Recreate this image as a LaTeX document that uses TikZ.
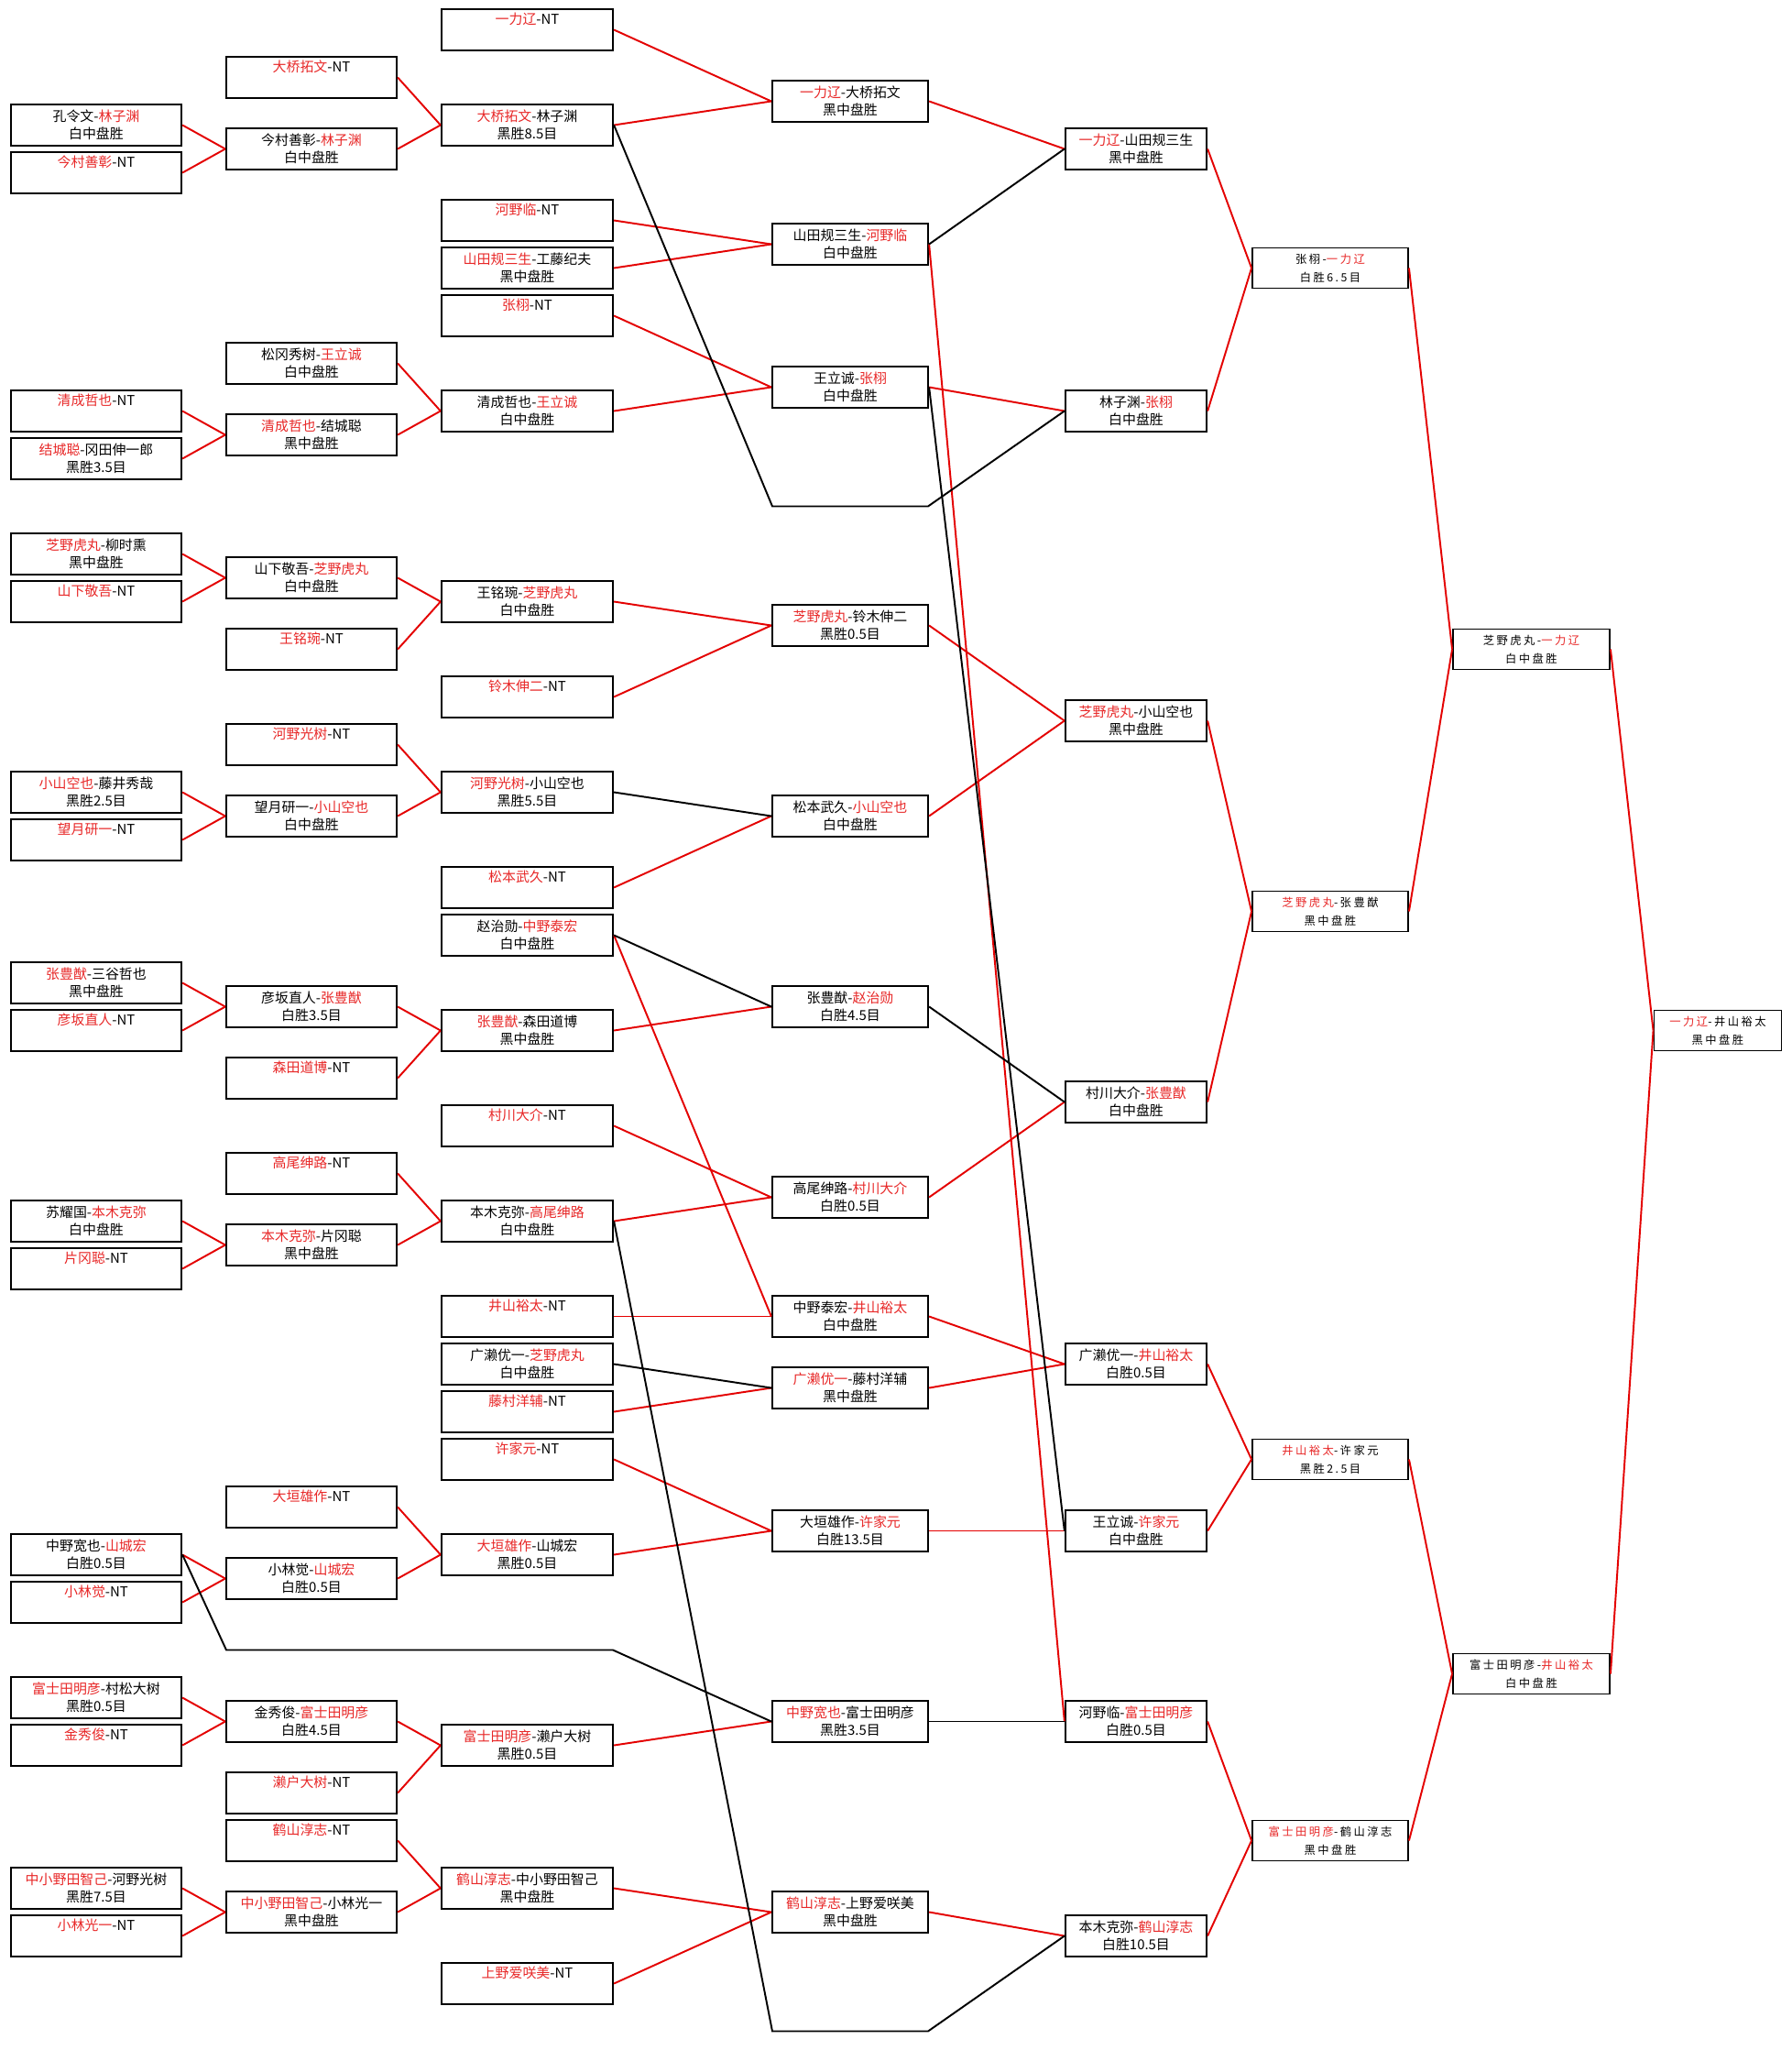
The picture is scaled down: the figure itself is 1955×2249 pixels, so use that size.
\documentclass[tikz,border=0pt]{standalone}
\usepackage{fontspec}
\setmainfont{Noto Sans CJK SC}
\newfontfamily\finalfont[LetterSpace=20]{Noto Sans CJK SC}
\usepackage{tikz}
\definecolor{WinRed}{RGB}{232,40,40}
\definecolor{LineRed}{RGB}{228,0,0}
\newcommand{\win}[1]{\textcolor{WinRed}{#1}}

\begin{document}
\begin{tikzpicture}[x=0.02cm, y=-0.02cm,
    bout/.style={draw, line width=1.3pt, fill=white, inner sep=0pt,
      minimum height=0.9cm, align=center,
      font=\fontsize{8.5}{11}\selectfont},
    colA/.style={bout, minimum width=3.72cm},
    colC/.style={bout, minimum width=3.74cm},
    colD/.style={bout, minimum width=3.40cm},
    colE/.style={bout, minimum width=3.08cm},
    finalbout/.style={bout, line width=1.1pt, minimum height=0.88cm,
      font=\finalfont\fontsize{7}{11.5}\selectfont},
    colF/.style={finalbout, minimum width=3.40cm},
    colG/.style={finalbout, minimum width=3.42cm},
    colH/.style={finalbout, minimum width=2.78cm},
    adv/.style={LineRed, line width=1.1pt},
    drop/.style={black, line width=1.1pt}]

    % Canvas (rows are 52px apart, node names carry twice the row index)
    \fill[white] (0,0) rectangle (1955,2249);
    \useasboundingbox (0,0) rectangle (1955,2249);

    % Round 1
    \node[colA] (a4)  at (105,136.5)  {孔令文-\win{林子渊}\\白中盘胜};
    \node[colA] (a6)  at (105,188.5)  {\win{今村善彰}-NT\\\strut};
    \node[colA] (a16) at (105,448.5)  {\win{清成哲也}-NT\\\strut};
    \node[colA] (a18) at (105,500.5)  {\win{结城聪}-冈田伸一郎\\黑胜3.5目};
    \node[colA] (a22) at (105,604.5)  {\win{芝野虎丸}-柳时熏\\黑中盘胜};
    \node[colA] (a24) at (105,656.5)  {\win{山下敬吾}-NT\\\strut};
    \node[colA] (a32) at (105,864.5)  {\win{小山空也}-藤井秀哉\\黑胜2.5目};
    \node[colA] (a34) at (105,916.5)  {\win{望月研一}-NT\\\strut};
    \node[colA] (a40) at (105,1072.5) {\win{张豊猷}-三谷哲也\\黑中盘胜};
    \node[colA] (a42) at (105,1124.5) {\win{彦坂直人}-NT\\\strut};
    \node[colA] (a50) at (105,1332.5) {苏耀国-\win{本木克弥}\\白中盘胜};
    \node[colA] (a52) at (105,1384.5) {\win{片冈聪}-NT\\\strut};
    \node[colA] (a64) at (105,1696.5) {中野宽也-\win{山城宏}\\白胜0.5目};
    \node[colA] (a66) at (105,1748.5) {\win{小林觉}-NT\\\strut};
    \node[colA] (a70) at (105,1852.5) {\win{富士田明彦}-村松大树\\黑胜0.5目};
    \node[colA] (a72) at (105,1904.5) {\win{金秀俊}-NT\\\strut};
    \node[colA] (a78) at (105,2060.5) {\win{中小野田智己}-河野光树\\黑胜7.5目};
    \node[colA] (a80) at (105,2112.5) {\win{小林光一}-NT\\\strut};

    % Round 2
    \node[colA] (b2)  at (340,84.5)   {\win{大桥拓文}-NT\\\strut};
    \node[colA] (b5)  at (340,162.5)  {今村善彰-\win{林子渊}\\白中盘胜};
    \node[colA] (b14) at (340,396.5)  {松冈秀树-\win{王立诚}\\白中盘胜};
    \node[colA] (b17) at (340,474.5)  {\win{清成哲也}-结城聪\\黑中盘胜};
    \node[colA] (b23) at (340,630.5)  {山下敬吾-\win{芝野虎丸}\\白中盘胜};
    \node[colA] (b26) at (340,708.5)  {\win{王铭琬}-NT\\\strut};
    \node[colA] (b30) at (340,812.5)  {\win{河野光树}-NT\\\strut};
    \node[colA] (b33) at (340,890.5)  {望月研一-\win{小山空也}\\白中盘胜};
    \node[colA] (b41) at (340,1098.5) {彦坂直人-\win{张豊猷}\\白胜3.5目};
    \node[colA] (b44) at (340,1176.5) {\win{森田道博}-NT\\\strut};
    \node[colA] (b48) at (340,1280.5) {\win{高尾绅路}-NT\\\strut};
    \node[colA] (b51) at (340,1358.5) {\win{本木克弥}-片冈聪\\黑中盘胜};
    \node[colA] (b62) at (340,1644.5) {\win{大垣雄作}-NT\\\strut};
    \node[colA] (b65) at (340,1722.5) {小林觉-\win{山城宏}\\白胜0.5目};
    \node[colA] (b71) at (340,1878.5) {金秀俊-\win{富士田明彦}\\白胜4.5目};
    \node[colA] (b74) at (340,1956.5) {\win{濑户大树}-NT\\\strut};
    \node[colA] (b76) at (340,2008.5) {\win{鹤山淳志}-NT\\\strut};
    \node[colA] (b79) at (340,2086.5) {\win{中小野田智己}-小林光一\\黑中盘胜};

    % Round 3
    \node[colC] (c0)  at (575.5,32.5)   {\win{一力辽}-NT\\\strut};
    \node[colC] (c4)  at (575.5,136.5)  {\win{大桥拓文}-林子渊\\黑胜8.5目};
    \node[colC] (c8)  at (575.5,240.5)  {\win{河野临}-NT\\\strut};
    \node[colC] (c10) at (575.5,292.5)  {\win{山田规三生}-工藤纪夫\\黑中盘胜};
    \node[colC] (c12) at (575.5,344.5)  {\win{张栩}-NT\\\strut};
    \node[colC] (c16) at (575.5,448.5)  {清成哲也-\win{王立诚}\\白中盘胜};
    \node[colC] (c24) at (575.5,656.5)  {王铭琬-\win{芝野虎丸}\\白中盘胜};
    \node[colC] (c28) at (575.5,760.5)  {\win{铃木伸二}-NT\\\strut};
    \node[colC] (c32) at (575.5,864.5)  {\win{河野光树}-小山空也\\黑胜5.5目};
    \node[colC] (c36) at (575.5,968.5)  {\win{松本武久}-NT\\\strut};
    \node[colC] (c38) at (575.5,1020.5) {赵治勋-\win{中野泰宏}\\白中盘胜};
    \node[colC] (c42) at (575.5,1124.5) {\win{张豊猷}-森田道博\\黑中盘胜};
    \node[colC] (c46) at (575.5,1228.5) {\win{村川大介}-NT\\\strut};
    \node[colC] (c50) at (575.5,1332.5) {本木克弥-\win{高尾绅路}\\白中盘胜};
    \node[colC] (c54) at (575.5,1436.5) {\win{井山裕太}-NT\\\strut};
    \node[colC] (c56) at (575.5,1488.5) {广濑优一-\win{芝野虎丸}\\白中盘胜};
    \node[colC] (c58) at (575.5,1540.5) {\win{藤村洋辅}-NT\\\strut};
    \node[colC] (c60) at (575.5,1592.5) {\win{许家元}-NT\\\strut};
    \node[colC] (c64) at (575.5,1696.5) {\win{大垣雄作}-山城宏\\黑胜0.5目};
    \node[colC] (c72) at (575.5,1904.5) {\win{富士田明彦}-濑户大树\\黑胜0.5目};
    \node[colC] (c78) at (575.5,2060.5) {\win{鹤山淳志}-中小野田智己\\黑中盘胜};
    \node[colC] (c82) at (575.5,2164.5) {\win{上野爱咲美}-NT\\\strut};

    % Round 4
    \node[colD] (d3)  at (928,110.5)  {\win{一力辽}-大桥拓文\\黑中盘胜};
    \node[colD] (d9)  at (928,266.5)  {山田规三生-\win{河野临}\\白中盘胜};
    \node[colD] (d15) at (928,422.5)  {王立诚-\win{张栩}\\白中盘胜};
    \node[colD] (d25) at (928,682.5)  {\win{芝野虎丸}-铃木伸二\\黑胜0.5目};
    \node[colD] (d33) at (928,890.5)  {松本武久-\win{小山空也}\\白中盘胜};
    \node[colD] (d41) at (928,1098.5) {张豊猷-\win{赵治勋}\\白胜4.5目};
    \node[colD] (d49) at (928,1306.5) {高尾绅路-\win{村川大介}\\白胜0.5目};
    \node[colD] (d54) at (928,1436.5) {中野泰宏-\win{井山裕太}\\白中盘胜};
    \node[colD] (d57) at (928,1514.5) {\win{广濑优一}-藤村洋辅\\黑中盘胜};
    \node[colD] (d63) at (928,1670.5) {大垣雄作-\win{许家元}\\白胜13.5目};
    \node[colD] (d71) at (928,1878.5) {\win{中野宽也}-富士田明彦\\黑胜3.5目};
    \node[colD] (d79) at (928,2086.5) {\win{鹤山淳志}-上野爱咲美\\黑中盘胜};

    % Round 5
    \node[colE] (e5)  at (1240,162.5)  {\win{一力辽}-山田规三生\\黑中盘胜};
    \node[colE] (e16) at (1240,448.5)  {林子渊-\win{张栩}\\白中盘胜};
    \node[colE] (e29) at (1240,786.5)  {\win{芝野虎丸}-小山空也\\黑中盘胜};
    \node[colE] (e45) at (1240,1202.5) {村川大介-\win{张豊猷}\\白中盘胜};
    \node[colE] (e56) at (1240,1488.5) {广濑优一-\win{井山裕太}\\白胜0.5目};
    \node[colE] (e63) at (1240,1670.5) {王立诚-\win{许家元}\\白中盘胜};
    \node[colE] (e71) at (1240,1878.5) {河野临-\win{富士田明彦}\\白胜0.5目};
    \node[colE] (e80) at (1240,2112.5) {本木克弥-\win{鹤山淳志}\\白胜10.5目};

    % Final rounds
    \node[colF] (f10) at (1452,292.5)  {张栩-\win{一力辽}\\白胜6.5目};
    \node[colF] (f37) at (1452,994.5)  {\win{芝野虎丸}-张豊猷\\黑中盘胜};
    \node[colF] (f60) at (1452,1592.5) {\win{井山裕太}-许家元\\黑胜2.5目};
    \node[colF] (f76) at (1452,2008.5) {\win{富士田明彦}-鹤山淳志\\黑中盘胜};
    \node[colG] (g26) at (1671.5,708.5)  {芝野虎丸-\win{一力辽}\\白中盘胜};
    \node[colG] (g69) at (1671.5,1826.5) {富士田明彦-\win{井山裕太}\\白中盘胜};
    \node[colH] (h42) at (1875,1124.5)   {\win{一力辽}-井山裕太\\黑中盘胜};

    % Empty slots the drop lines run through
    \coordinate (skipA) at (843,552.5);
    \coordinate (skipB) at (1013,552.5);
    \coordinate (skipC) at (247,1800.5);
    \coordinate (skipD) at (669,1800.5);
    \coordinate (skipE) at (843,2216.5);
    \coordinate (skipF) at (1013,2216.5);

    % Round 1 -> 2
    \foreach \from/\to in {a4/b5, a6/b5, a16/b17, a18/b17, a22/b23, a24/b23,
        a32/b33, a34/b33, a40/b41, a42/b41, a50/b51, a52/b51,
        a64/b65, a66/b65, a70/b71, a72/b71, a78/b79, a80/b79}
        \draw[adv] (\from.east) -- (\to.west);

    % Round 2 -> 3
    \foreach \from/\to in {b2/c4, b5/c4, b14/c16, b17/c16, b23/c24, b26/c24,
        b30/c32, b33/c32, b41/c42, b44/c42, b48/c50, b51/c50,
        b62/c64, b65/c64, b71/c72, b74/c72, b76/c78, b79/c78}
        \draw[adv] (\from.east) -- (\to.west);

    % Round 3 -> 4
    \foreach \from/\to in {c0/d3, c4/d3, c8/d9, c10/d9, c12/d15, c16/d15,
        c24/d25, c28/d25, c36/d33, c38/d54, c42/d41, c46/d49, c50/d49,
        c54/d54, c58/d57, c60/d63, c64/d63, c72/d71, c78/d79, c82/d79}
        \draw[adv] (\from.east) -- (\to.west);
    \foreach \from/\to in {c32/d33, c38/d41, c56/d57}
        \draw[drop] (\from.east) -- (\to.west);

    % Round 4 -> 5
    \foreach \from/\to in {d3/e5, d9/e71, d15/e16, d25/e29, d33/e29,
        d49/e45, d54/e56, d57/e56, d63/e63, d79/e80}
        \draw[adv] (\from.east) -- (\to.west);
    \foreach \from/\to in {d9/e5, d15/e63, d41/e45, d71/e71}
        \draw[drop] (\from.east) -- (\to.west);

    % Drops that skip a round
    \draw[drop] (c4.east) -- (skipA) -- (skipB) -- (e16.west);
    \draw[drop] (a64.east) -- (skipC) -- (skipD) -- (d71.west);
    \draw[drop] (c50.east) -- (skipE) -- (skipF) -- (e80.west);

    % Round 5 -> final
    \foreach \from/\to in {e5/f10, e16/f10, e29/f37, e45/f37,
        e56/f60, e63/f60, e71/f76, e80/f76,
        f10/g26, f37/g26, f60/g69, f76/g69, g26/h42, g69/h42}
        \draw[adv] (\from.east) -- (\to.west);
\end{tikzpicture}
\end{document}
